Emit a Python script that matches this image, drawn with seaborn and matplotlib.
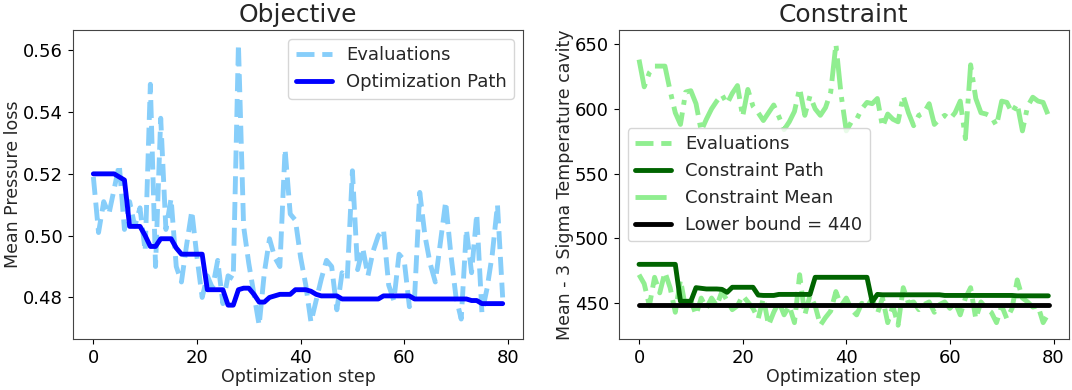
import matplotlib
matplotlib.use("Agg")
import matplotlib.pyplot as plt
import numpy as np
import seaborn as sns

steps = np.arange(80)

# objective evaluations (mean pressure loss)
obj_evals = [0.519, 0.501, 0.511, 0.507, 0.515, 0.523, 0.502, 0.511, 0.503, 0.509,
             0.495, 0.549, 0.490, 0.538, 0.502, 0.512, 0.490, 0.485, 0.497, 0.508,
             0.493, 0.480, 0.487, 0.483, 0.492, 0.478, 0.487, 0.486, 0.562, 0.503,
             0.491, 0.481, 0.471, 0.488, 0.499, 0.493, 0.490, 0.528, 0.507, 0.505,
             0.493, 0.484, 0.472, 0.479, 0.486, 0.492, 0.490, 0.476, 0.488, 0.486,
             0.521, 0.489, 0.496, 0.487, 0.495, 0.500, 0.502, 0.484, 0.479, 0.494,
             0.492, 0.477, 0.480, 0.514, 0.500, 0.491, 0.485, 0.498, 0.511, 0.494,
             0.480, 0.473, 0.502, 0.488, 0.507, 0.475, 0.483, 0.494, 0.510, 0.480]

obj_path = [0.520, 0.520, 0.520, 0.520, 0.520, 0.519, 0.518, 0.503, 0.503, 0.503,
            0.500, 0.4965, 0.4965, 0.499, 0.499, 0.499, 0.496, 0.494, 0.494, 0.494,
            0.494, 0.494, 0.4825, 0.4825, 0.4825, 0.4825, 0.4775, 0.4775, 0.4825, 0.483,
            0.483, 0.481, 0.4785, 0.4785, 0.480, 0.4805, 0.481, 0.481, 0.481, 0.4825,
            0.4825, 0.4825, 0.482, 0.481, 0.4805, 0.4805, 0.4805, 0.4805, 0.4795, 0.4795,
            0.4795, 0.4795, 0.4795, 0.4795, 0.4795, 0.4795, 0.4805, 0.4805, 0.4805, 0.4805,
            0.4805, 0.4805, 0.4795, 0.4795, 0.4795, 0.4795, 0.4795, 0.4795, 0.4795, 0.4795,
            0.4795, 0.4795, 0.4795, 0.479, 0.479, 0.478, 0.478, 0.478, 0.478, 0.478]

# constraint: mean - 3 sigma temperature in the cavity
con_evals = [472, 465, 448, 470, 458, 474, 462, 443, 468, 446,
             452, 441, 454, 446, 454, 448, 459, 452, 445, 448,
             456, 451, 446, 438, 454, 433, 443, 451, 441, 448,
             435, 472, 441, 456, 448, 433, 439, 444, 459, 448,
             454, 445, 441, 450, 447, 454, 442, 454, 435, 448,
             433, 462, 450, 451, 445, 449, 451, 443, 449, 451,
             446, 451, 441, 454, 462, 438, 451, 446, 443, 435,
             448, 438, 446, 468, 454, 451, 447, 448, 435, 442]

con_path = [480, 480, 480, 480, 480, 480, 480, 480, 451.5, 451.5,
            451.5, 462, 461.5, 461, 461, 461, 460.7, 458.4, 462.3, 462.3,
            462.3, 462.3, 462.3, 456.3, 456, 456, 456, 456.8, 456.8, 456.8,
            456.8, 456.8, 456.8, 456.8, 470, 470, 470, 470, 470, 470,
            470, 470, 470, 470, 470, 451, 456.8, 456.5, 456.5, 456.5,
            456.5, 456.5, 456.5, 456.5, 456.5, 456.5, 456.5, 456.5, 456.5, 456,
            456, 456, 456, 456, 456, 456, 456, 456, 456, 456,
            456, 456, 456, 455.7, 455.7, 455.7, 455.7, 455.7, 455.7, 455.7]

con_mean = [638, 617, 628, 633, 633, 633, 614, 597, 588, 613,
            614, 604, 583, 592, 600, 606, 611, 604, 612, 618,
            594, 615, 602, 597, 591, 597, 603, 594, 584, 590,
            598, 616, 595, 610, 600, 595, 601, 613, 650, 611,
            583, 590, 592, 600, 605, 604, 608, 586, 596, 592,
            590, 610, 597, 587, 595, 597, 604, 588, 592, 595,
            592, 597, 606, 577, 634, 608, 597, 596, 594, 587,
            606, 605, 597, 604, 583, 602, 609, 606, 605, 595]

bound_drawn = 448.5  # where the bound line sits in the picture

sns.set_style("ticks")
plt.rcParams['font.family'] = ['DejaVu Sans']

fig, ax = plt.subplots(nrows=1, ncols=2, figsize=(10.72, 3.9), dpi=100)
fig.subplots_adjust(left=0.068, right=0.997, top=0.923, bottom=0.13, wspace=0.212)

lw = 3.5
sns.lineplot(x=steps, y=obj_evals, ax=ax[0], color='lightskyblue', linestyle='--',
             linewidth=lw, label='Evaluations')
sns.lineplot(x=steps, y=obj_path, ax=ax[0], color='blue', linewidth=lw,
             label='Optimization Path')
ax[0].set_title('Objective', fontsize=18)
ax[0].set_xlabel('Optimization step', fontsize=12.5, labelpad=1)
ax[0].set_ylabel('Mean Pressure loss', fontsize=12.5, labelpad=0.5)
ax[0].set_yticks([0.48, 0.50, 0.52, 0.54, 0.56])
ax[0].set_xticks([0, 20, 40, 60, 80])
ax[0].tick_params(labelsize=13, colors='black')
ax[0].legend(loc='upper right', fontsize=13)

sns.lineplot(x=steps, y=con_evals, ax=ax[1], color='lightgreen', linestyle='--',
             linewidth=lw, label='Evaluations')
sns.lineplot(x=steps, y=con_path, ax=ax[1], color='darkgreen', linewidth=lw,
             label='Constraint Path')
sns.lineplot(x=steps, y=con_mean, ax=ax[1], color='lightgreen', linestyle='-.',
             linewidth=lw, label='Constraint Mean')
ax[1].axhline(bound_drawn, xmin=0.045, xmax=0.955, color='black', linewidth=lw,
              label='Lower bound = 440')
ax[1].set_title('Constraint', fontsize=18)
ax[1].set_xlabel('Optimization step', fontsize=12.5, labelpad=1)
ax[1].set_ylabel('Mean - 3 Sigma Temperature cavity', fontsize=12.5, labelpad=0.5)
ax[1].set_yticks([450, 500, 550, 600, 650])
ax[1].set_xticks([0, 20, 40, 60, 80])
ax[1].tick_params(labelsize=13, colors='black')
ax[1].legend(loc='center left', bbox_to_anchor=(0.0, 0.5), fontsize=13)

for a in ax:
    for s in a.spines.values():
        s.set_color('#444444')

plt.savefig('out.png', dpi=100)
